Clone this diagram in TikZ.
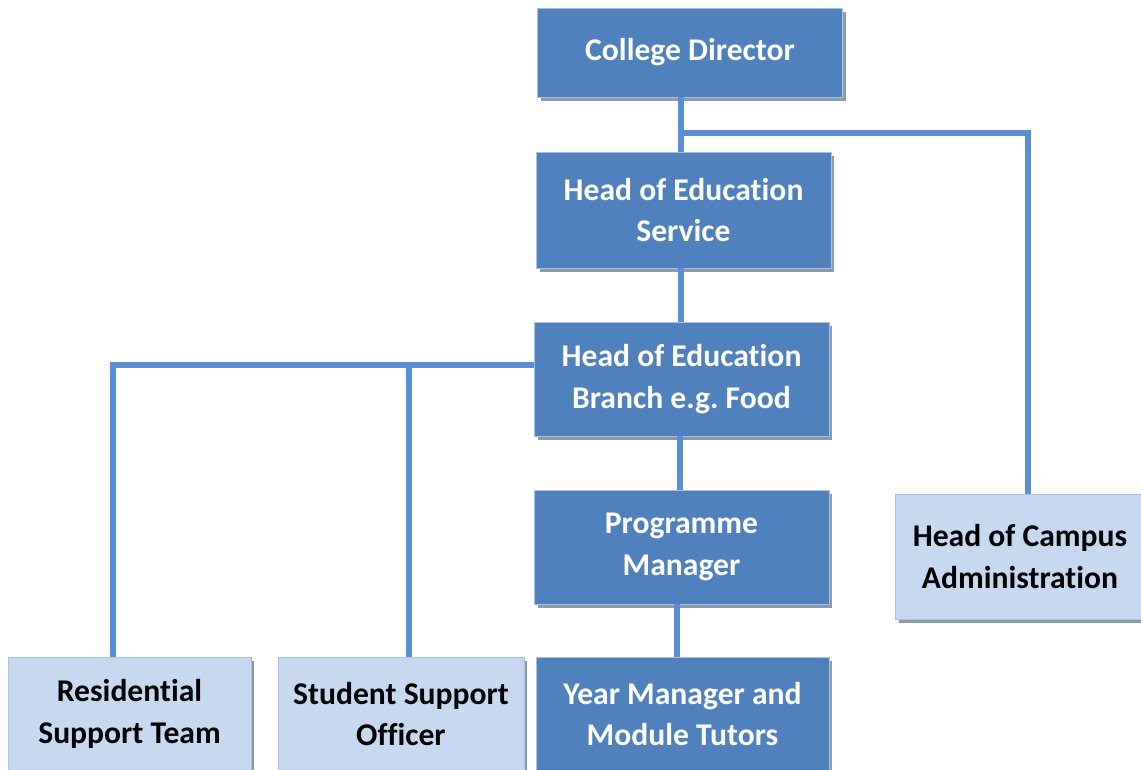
\documentclass[tikz,border=0pt]{standalone}
\usepackage{fontspec}
\setmainfont{Carlito}[RawFeature=-liga]
\usetikzlibrary{positioning, shadows}
\definecolor{boxdark}{HTML}{4F81BD}
\definecolor{boxlight}{HTML}{C6D9F1}
\definecolor{boxedge}{HTML}{A9C2E4}
\definecolor{boxshade}{HTML}{8F9AAC}
\definecolor{linkblue}{HTML}{5A8FD8}
\tikzset{
  role/.style={align=center, inner sep=0pt,
    draw=boxedge, line width=0.4pt,
    drop shadow={shadow xshift=0.07cm, shadow yshift=-0.08cm,
                 fill=boxshade, opacity=1},
    font=\fontsize{18}{23.5}\selectfont\bfseries},
  darkrole/.style={role, fill=boxdark, text=white},
  lightrole/.style={role, fill=boxlight, text=black},
  link/.style={draw=linkblue, line width=0.11cm}
}
% name, style, position, width, height, text
\newcommand{\rolebox}[6]{%
  \node[#2, minimum width=#4, minimum height=#5] (#1) at (#3) {#6};}

\begin{document}
\frenchspacing
\begin{tikzpicture}[x=0.02cm, y=-0.02cm]
  \useasboundingbox (0,0) rectangle (1141,769);
  \clip (0,0) rectangle (1141,769);
  \coordinate (split) at (681,133);
  \coordinate (fork) at (409,365);
  \coordinate (left) at (113,365);
  \rolebox{cd}{darkrole}{690,52.5}{6.1cm}{1.78cm}{College Director}
  \rolebox{hoes}{darkrole}{683.5,210}{5.9cm}{2.32cm}{Head of Education\\Service}
  \rolebox{branch}{darkrole}{681.5,379}{5.9cm}{2.28cm}{Head of Education\\Branch e.g. Food}
  \rolebox{pm}{darkrole}{681.5,547}{5.9cm}{2.28cm}{Programme\\Manager}
  \rolebox{year}{darkrole}{682.5,714}{5.86cm}{2.28cm}{Year Manager and\\Module Tutors}
  \rolebox{hca}{lightrole}{1020,556.5}{5.0cm}{2.5cm}{Head of Campus\\Administration}
  \rolebox{rst}{lightrole}{129.5,714}{4.86cm}{2.28cm}{Residential\\Support Team}
  \rolebox{sso}{lightrole}{401,714}{4.92cm}{2.28cm}{Student Support\\Officer}

  % reporting lines, box edge to box edge
  \draw[link] (cd.south -| split) -- (hoes.north -| split);
  \draw[link] (split) -| ([xshift=0.16cm]hca.north);
  \draw[link] (hoes.south -| split) -- (branch.north -| split);
  \draw[link] (branch.south -| 680,0) -- (pm.north -| 680,0);
  \draw[link] (pm.south -| 677,0) -- (year.north -| 677,0);
  \draw[link] (branch.west |- fork) -- (left) -- (rst.north -| left);
  \draw[link] (fork) -- (sso.north -| fork);
\end{tikzpicture}
\end{document}
